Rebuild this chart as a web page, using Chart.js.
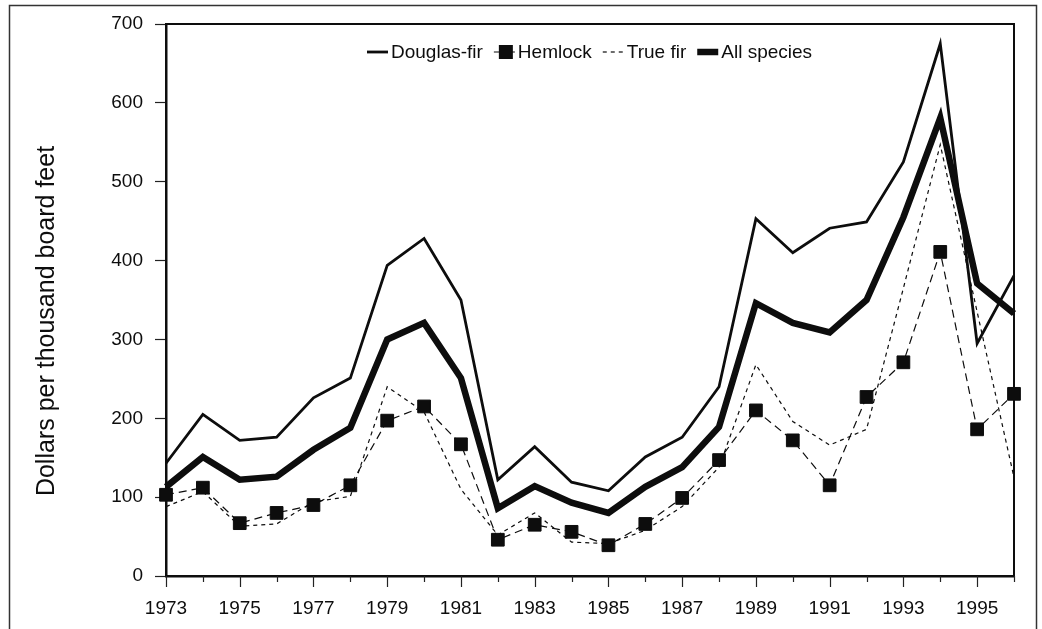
<!DOCTYPE html>
<html lang="en">
<head>
    <meta charset="UTF-8">
    <title>Stumpage prices by species</title>
    <script src="https://cdn.jsdelivr.net/npm/chart.js"></script>
    <style>
        html, body { margin: 0; padding: 0; background: #fff; }
        #wrap { width: 1042px; height: 629px; position: relative; }
    </style>
</head>
<body>
    <div id="wrap"><canvas id="grafico" width="1042" height="629"></canvas></div>

    <script>
        // data (dollars per thousand board feet)
        const years = [1973, 1974, 1975, 1976, 1977, 1978, 1979, 1980, 1981, 1982, 1983, 1984,
                       1985, 1986, 1987, 1988, 1989, 1990, 1991, 1992, 1993, 1994, 1995, 1996];
        const douglasFir = [143, 205, 172, 176, 226, 251, 394, 428, 350, 122, 164, 119,
                            108, 151, 176, 240, 453, 410, 441, 449, 525, 675, 295, 381];
        const hemlock = [103, 112, 67, 80, 90, 115, 197, 215, 167, 46, 65, 56,
                         39, 66, 99, 147, 210, 172, 115, 227, 271, 411, 186, 231];
        const trueFir = [88, 107, 63, 66, 94, 101, 240, 208, 110, 52, 80, 43,
                         41, 58, 88, 138, 268, 196, 166, 186, 365, 547, 335, 125];
        const allSpecies = [113, 151, 122, 126, 160, 188, 300, 321, 251, 86, 114, 93,
                            80, 113, 138, 189, 346, 321, 309, 350, 455, 581, 371, 333];
        const yTicks = [0, 100, 200, 300, 400, 500, 600, 700];
        const yTitle = 'Dollars per thousand board feet';

        const ink = '#0d0d0d';
        const fontFamily = "'Liberation Sans', Arial, Helvetica, sans-serif";

        // frame around the page, top/right sides of the plot box, x tick marks, y title
        const framePlugin = {
            id: 'frame',
            afterDraw(chart) {
                const ctx = chart.ctx;
                const a = chart.chartArea;
                const xScale = chart.scales.x;
                ctx.save();
                ctx.strokeStyle = '#333';
                ctx.lineWidth = 1.5;
                ctx.strokeRect(9.5, 5.5, 1027, 660);

                ctx.strokeStyle = ink;
                ctx.lineWidth = 2;
                ctx.beginPath();
                ctx.moveTo(a.left, a.top);
                ctx.lineTo(a.right, a.top);
                ctx.lineTo(a.right, a.bottom);
                ctx.stroke();

                // long ticks at labelled (odd) years, short ones between
                ctx.lineWidth = 1.2;
                ctx.strokeStyle = '#222';
                years.forEach((yr, i) => {
                    const px = Math.round(xScale.getPixelForTick(i)) + 0.5;
                    const len = yr % 2 === 1 ? 11 : 6;
                    ctx.beginPath();
                    ctx.moveTo(px, a.bottom);
                    ctx.lineTo(px, a.bottom + len);
                    ctx.stroke();
                });

                ctx.translate(47, 321);
                ctx.rotate(-Math.PI / 2);
                ctx.fillStyle = ink;
                ctx.font = '25px ' + fontFamily;
                ctx.textAlign = 'center';
                ctx.textBaseline = 'middle';
                ctx.fillText(yTitle, 0, 0);
                ctx.restore();
            }
        };

        // legend drawn inside the plot, one row near the top
        const legendPlugin = {
            id: 'insideLegend',
            afterDraw(chart) {
                const ctx = chart.ctx;
                const a = chart.chartArea;
                const sample = 21;
                const gap = 11;
                ctx.save();
                ctx.font = '19px ' + fontFamily;
                ctx.textBaseline = 'middle';
                const items = chart.data.datasets;
                let x = 367;
                const y = a.top + 28;
                items.forEach(ds => {
                    ctx.strokeStyle = ink;
                    ctx.lineWidth = ds.borderWidth;
                    ctx.setLineDash(ds.borderDash || []);
                    ctx.beginPath();
                    ctx.moveTo(x, y);
                    ctx.lineTo(x + sample, y);
                    ctx.stroke();
                    ctx.setLineDash([]);
                    if (ds.pointRadius > 0) {
                        ctx.fillStyle = ink;
                        ctx.fillRect(x + sample - 16, y - 7, 14, 14);
                    }
                    x += sample + 3;
                    ctx.fillStyle = ink;
                    ctx.fillText(ds.label, x, y + 1);
                    x += ctx.measureText(ds.label).width + gap;
                });
                ctx.restore();
            }
        };

        const ctx = document.getElementById('grafico').getContext('2d');

        new Chart(ctx, {
            type: 'line',
            data: {
                labels: years,
                datasets: [
                    {
                        label: 'Douglas-fir',
                        data: douglasFir,
                        borderColor: ink,
                        borderWidth: 2.8,
                        pointRadius: 0,
                        tension: 0,
                        order: 1
                    },
                    {
                        label: 'Hemlock',
                        data: hemlock,
                        borderColor: ink,
                        borderWidth: 1.2,
                        borderDash: [8, 5],
                        pointStyle: 'rect',
                        pointRadius: 9,
                        pointBackgroundColor: ink,
                        pointBorderColor: ink,
                        pointBorderWidth: 1,
                        tension: 0,
                        order: 0
                    },
                    {
                        label: 'True fir',
                        data: trueFir,
                        borderColor: ink,
                        borderWidth: 1.2,
                        borderDash: [4, 4],
                        pointRadius: 0,
                        tension: 0,
                        order: 2
                    },
                    {
                        label: 'All species',
                        data: allSpecies,
                        borderColor: ink,
                        borderWidth: 6.5,
                        pointRadius: 0,
                        tension: 0,
                        order: 1
                    }
                ]
            },
            options: {
                responsive: false,
                animation: false,
                layout: { padding: { left: 29, top: 24, right: 28, bottom: 0 } },
                plugins: {
                    legend: { display: false },
                    tooltip: { enabled: false }
                },
                scales: {
                    x: {
                        type: 'category',
                        offset: false,
                        afterFit(scale) { scale.height = 53; },
                        grid: {
                            drawOnChartArea: false,
                            drawTicks: true,
                            tickLength: 10,
                            tickColor: 'rgba(0,0,0,0)'
                        },
                        border: { display: true, color: ink, width: 2.5 },
                        ticks: {
                            autoSkip: false,
                            maxRotation: 0,
                            padding: 11,
                            color: ink,
                            font: { family: fontFamily, size: 19 },
                            callback: function (value, index) {
                                const yr = years[index];
                                return yr % 2 === 1 ? String(yr) : '';
                            }
                        }
                    },
                    y: {
                        min: 0,
                        max: 700,
                        afterFit(scale) { scale.width = 137; },
                        afterBuildTicks(scale) {
                            scale.ticks = yTicks.map(v => ({ value: v }));
                        },
                        grid: {
                            drawOnChartArea: false,
                            drawTicks: true,
                            tickLength: 11,
                            tickWidth: 1.2,
                            tickColor: '#222'
                        },
                        border: { display: true, color: ink, width: 2.5 },
                        ticks: {
                            padding: 12,
                            color: ink,
                            font: { family: fontFamily, size: 19 }
                        }
                    }
                }
            },
            plugins: [framePlugin, legendPlugin]
        });
    </script>
</body>
</html>
